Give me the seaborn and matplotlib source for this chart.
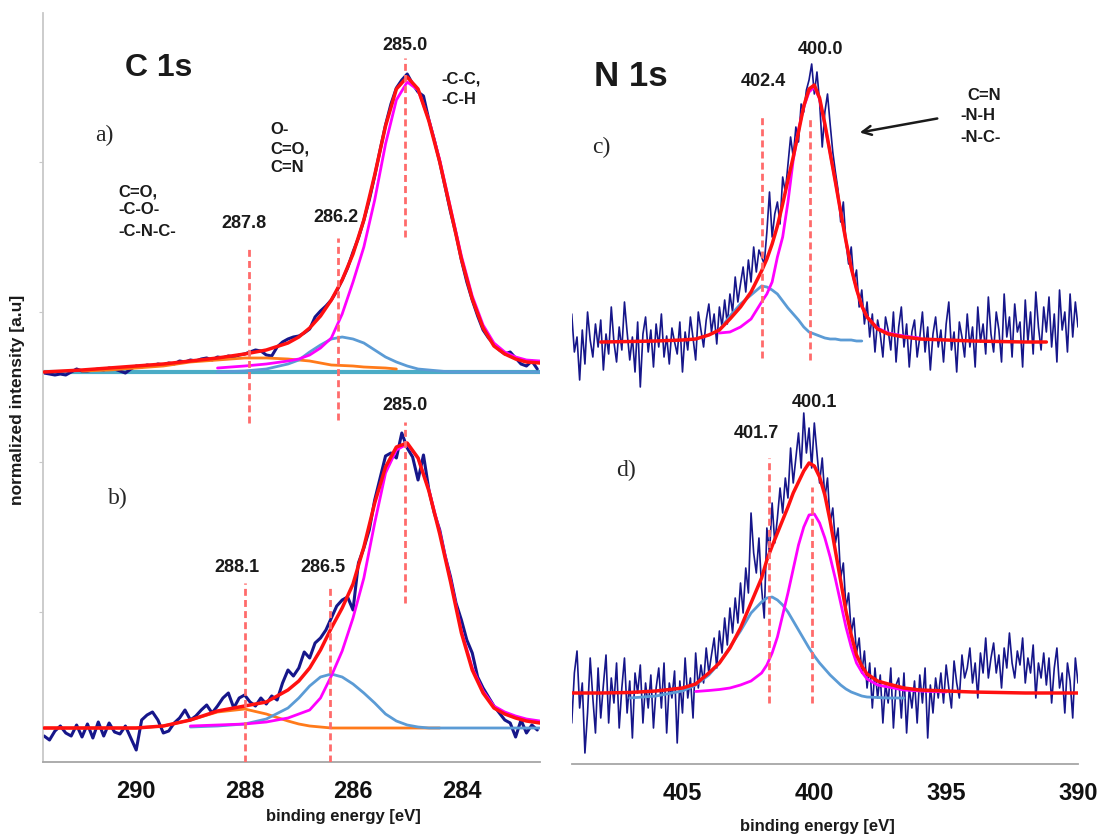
import numpy as np
import matplotlib
matplotlib.use("Agg")
import matplotlib.pyplot as plt
import seaborn as sns

sns.set_style("white")
plt.rcParams['font.family'] = ['Liberation Sans', 'DejaVu Sans']

# ---------------- C 1s (left panel) ----------------
nan = np.nan
c_fit_energy = [291.7, 291.0, 290.5, 290.0, 289.5, 289.0, 288.5, 288.0, 287.6, 287.2,
                287.0, 286.8, 286.6, 286.4, 286.2, 286.0, 285.8, 285.6, 285.4, 285.2,
                285.0, 284.8, 284.6, 284.4, 284.2, 284.0, 283.8, 283.6, 283.4, 283.2,
                283.0, 282.8, 282.55]

# sample a)
a_envelope = [0, 2, 4, 6, 8, 11, 14, 18, 22, 29, 35, 44, 56, 72, 92, 118, 152, 197, 246, 283,
              295, 283, 251, 210, 162, 113, 73, 44, 26, 18, 13, 10, 9]
a_cc = [nan, nan, nan, nan, nan, nan, 4, 6, 8, 11, 13, 17, 24, 34, 58, 90, 125, 172, 228, 272,
        290, 282, 252, 212, 164, 116, 76, 47, 29, 20, 15, 12, 11]
a_cn = [nan, nan, nan, nan, nan, nan, 0, 1, 3, 8, 12, 20, 27, 33, 35, 33, 29, 22, 15, 10,
        6, 3, 2, 1, 0, 0, 0, 0, 0, 0, 0, 0, 0]
a_co = [nan, 1, 2, 4, 6, 10, 12, 14, 14, 13, 12, 11, 9, 7, 6.5, 6, 5, 4.5, 4, 3,
        nan, nan, nan, nan, nan, nan, nan, nan, nan, nan, nan, nan, nan]
a_bg_energy = [291.7, 282.55]
a_bg = [0, 0]
a_data = [-1, -2, -3, -2, -3, 0, 3, 1, 1, 2, 3, 2, 4, 3, 1, -1, 3, 6, 5, 7,
          6, 8, 7, 9, 8, 11, 10, 12, 11, 13, 14, 12, 15, 14, 16, 15, 17, 18, 20, 22,
          21, 17, 16, 25, 30, 33, 35, 36, 39, 43, 55, 61, 66, 72, 81, 92, 104, 120, 134, 152,
          172, 196, 222, 247, 268, 284, 292, 298, 288, 280, 276, 252, 232, 210, 185, 160, 138, 112, 90, 72,
          56, 42, 34, 28, 22, 18, 20, 14, 8, 6, 11, 3]

# sample b)
b_envelope = [0, 0, 0, 0, 2, 8, 17, 22, 26, 38, 47, 60, 78, 100, 120, 144, 181, 225, 261, 281,
              285, 270, 237, 194, 146, 95, 58, 35, 20, 14, 10, 7, 5]
b_cc = [nan, nan, nan, nan, nan, 2, 3, 4, 6, 10, 14, 18, 30, 52, 77, 110, 150, 205, 255, 278,
        284, 270, 238, 196, 148, 97, 60, 37, 22, 16, 12, 9, 7]
b_cn = [nan, nan, nan, nan, nan, 1, 2, 4, 9, 20, 30, 42, 51, 54, 51, 44, 35, 25, 14, 7,
        3, 1, 0, 0, 0, 0, 0, 0, 0, 0, 0, 0, 0]
b_co = [0, 0, 0, 0, 2, 8, 16, 19, 14, 7, 4, 2, 1, 0, 0, 0, 0, 0, 0, 0,
        0, 0, 0, 0, nan, nan, nan, nan, nan, nan, nan, nan, nan]
b_data = [-8, -12, -3, 2, -5, -8, 3, -9, 4, -10, 6, -8, 5, -4, -6, 2, -10, -22, 8, 13,
          16, 8, -5, -3, 5, 10, 18, 8, 12, 18, 23, 15, 22, 30, 35, 20, 30, 33, 26, 22,
          30, 24, 32, 28, 45, 58, 52, 60, 76, 70, 85, 90, 98, 110, 122, 128, 131, 118, 165, 180,
          198, 228, 250, 272, 275, 270, 295, 280, 271, 248, 273, 238, 215, 198, 172, 151, 125, 108, 88, 75,
          51, 40, 31, 22, 15, 8, 5, -9, 8, -5, 3, -2]
c_data_start, c_data_step = 291.7, 0.1

a_peaks = [287.92, 286.28, 285.05]
a_peak_labels = ["287.8", "286.2", "285.0"]
b_peaks = [288.0, 286.43, 285.05]
b_peak_labels = ["288.1", "286.5", "285.0"]

# ---------------- N 1s (right panel) ----------------
n_fit_energy = [409.2, 408.1, 407.0, 406.0, 405.0, 404.5, 404.0, 403.6, 403.2, 402.8,
                402.4, 402.0, 401.8, 401.6, 401.4, 401.2, 401.0, 400.8, 400.6, 400.4,
                400.2, 400.0, 399.8, 399.6, 399.4, 399.2, 399.0, 398.8, 398.6, 398.4,
                398.2, 398.0, 397.6, 397.2, 396.6, 396.0, 395.0, 394.0, 393.0, 392.0,
                391.2, 390.0]

# sample c)
c_envelope = [nan, 0, 0.5, 1, 2, 3, 7, 12, 23, 35, 50, 71, 83, 98, 116, 138, 162, 185, 210, 236,
              253, 257, 244, 218, 189, 160, 130, 101, 74, 53, 36, 25, 13, 8, 5, 3, 2, 1, 0.5, 0,
              0, nan]
c_main = [nan, nan, nan, nan, nan, nan, nan, 9, 10, 15, 23, 40, 48, 60, 85, 105, 140, 182, 212, 235,
          250, 255, 243, 217, 189, 160, 130, 101, 74, 53, 36, 25, 14, 9, 6, 4, nan, nan, nan, nan,
          nan, nan]
c_high = [nan, nan, nan, nan, nan, nan, nan, 12, 26, 38, 47, 56, 55, 52, 48, 41, 34, 28, 22, 15,
          10, 8, 6, 4, 3, 3, 2, 2, 2, 1, 1, nan, nan, nan, nan, nan, nan, nan, nan, nan,
          nan, nan]
c_data = [28, -10, 5, -38, 12, -22, 30, 2, -15, 18,
          -5, 22, -28, 8, -12, 35, 0, -20, 15, -8,
          40, 10, -18, 5, -30, 20, -45, 8, 25, -10,
          12, -25, 18, -5, 28, -15, 6, -22, 14, 0,
          -12, 20, -30, 10, -8, 25, 4, -18, 30, 12,
          -5, 22, 38, 10, 28, -2, 35, 15, 42, 18,
          48, 30, 65, 40, 58, 75, 50, 82, 60, 95,
          70, 92, 85, 78, 110, 150, 105, 128, 140, 118,
          165, 150, 178, 205, 185, 215, 200, 238, 230, 252,
          262, 278, 248, 270, 240, 195, 230, 248, 218, 190,
          170, 152, 120, 140, 100, 78, 95, 60, 72, 35,
          52, 18, 40, 5, 28, -10, 22, 8, -15, 25,
          12, -8, 30, -20, 15, 35, -5, 18, -25, 10,
          22, -15, 5, 30, -10, 15, -28, 8, 25, -5,
          12, -20, 18, 40, -8, 10, -30, 20, 5, -15,
          28, -5, 15, -25, 35, 0, 18, -12, 45, 8,
          -10, 30, 12, -20, 48, 5, 25, -15, 38, 10,
          20, -25, 42, 0, 30, -12, 50, 15, -8, 35,
          10, 45, -5, 28, -20, 52, 12, 30, -10, 48,
          5, 40, 15]

# sample d)
d_envelope = [0, 0, 0.5, 2, 5, 9, 20, 30, 45, 65, 90, 115, 133, 147, 160, 173, 186, 200, 211, 222,
              230, 227, 216, 198, 172, 142, 112, 82, 58, 38, 27, 19, 12, 9, 5, 3, 2, 1, 0.5, 0,
              0, 0]
d_main = [nan, nan, nan, nan, nan, 1.5, 2.5, 3.5, 5, 8, 12, 20, 28, 40, 56, 78, 100, 124, 148, 166,
          178, 179, 170, 155, 136, 114, 90, 66, 46, 30, 21, 14, 8, 6, 3, 2, 1, nan, nan, nan,
          nan, nan]
d_high = [nan, nan, -5, -3, 2, 8, 18, 30, 46, 62, 80, 91, 95, 96, 93, 88, 81, 72, 63, 54,
          45, 37, 30, 24, 18, 13, 8, 4, 1, -1, -3, -4, -4.5, -5, -5, nan, nan, nan, nan, nan,
          nan, nan]
d_data = [-30, 20, 42, -15, 10, -60, -20, 35, -5, -40,
          25, -25, 8, 38, -30, 15, -10, 30, -35, 5,
          35, -20, 12, -45, 20, 0, 28, -30, 10, -15,
          18, -35, 5, 25, -15, 30, -40, 10, -5, 22,
          -50, 12, -20, 35, -5, 15, -25, 40, 5, 28,
          10, 45, 20, 38, 55, 25, 62, 40, 75, 48,
          85, 60, 95, 70, 110, 80, 125, 100, 180, 140,
          120, 155, 105, 75, 165, 140, 190, 150, 175, 205,
          180, 215, 195, 245, 210, 235, 260, 225, 280, 240,
          265, 225, 270, 240, 210, 235, 195, 215, 170, 185,
          150, 165, 115, 130, 85, 100, 60, 75, 40, 55,
          20, 42, 5, 30, -15, 25, -5, 18, -30, 10,
          -10, 25, -35, 8, 15, -25, 20, -40, 5, -15,
          12, -30, 18, -10, 25, -45, 8, -20, 15, -5,
          20, -10, 28, 5, -15, 32, 10, -5, 38, 15,
          25, 45, 10, 30, -5, 40, 20, 55, 15, 35,
          50, 20, 38, 5, 45, 25, 60, 30, 15, 42,
          28, 55, 10, 35, 20, 48, -5, 30, 15, 40,
          8, 35, -10, 25, 45, 5, 20, -20, 30, 12,
          -25, 35, 10]
n_data_start, n_data_step = 409.2, 0.1

c_peaks = [402.0, 400.15]
c_peak_labels = ["402.4", "400.0"]
d_peaks = [401.73, 400.08]
d_peak_labels = ["401.7", "400.1"]

# ---------------- styling ----------------
NAVY = "#16168a"
RED = "#ff1010"
MAGENTA = "#ff00ff"
BLUE = "#5b9bd5"
ORANGE = "#ff7a1a"
TEAL = "#4bacc6"
DASH = "#ff6b6b"

W, H = 1099, 835
fig = plt.figure(figsize=(W / 100, H / 100), dpi=100)
axL = fig.add_axes([43 / W, 1 - 762 / H, 497 / W, 749 / H])
axR = fig.add_axes([572 / W, 1 - 764 / H, 506 / W, 751 / H])


def curve(ax, x, y, off, color, lw, z):
    sns.lineplot(x=np.asarray(x, float), y=np.asarray(y, float) + off, ax=ax, color=color,
                 lw=lw, zorder=z, errorbar=None, sort=False)


def data_x(start, step, vals):
    return start - step * np.arange(len(vals))


# left panel
a_off, b_off = 390, 34
curve(axL, a_bg_energy, a_bg, a_off, TEAL, 3, 1)
curve(axL, data_x(c_data_start, c_data_step, a_data), a_data, a_off, NAVY, 2.2, 2)
curve(axL, data_x(c_data_start, c_data_step, b_data), b_data, b_off, NAVY, 2.2, 2)
for off, cc, cn, co, env in [(a_off, a_cc, a_cn, a_co, a_envelope), (b_off, b_cc, b_cn, b_co, b_envelope)]:
    curve(axL, c_fit_energy, co, off, ORANGE, 2, 3)
    curve(axL, c_fit_energy, cn, off, BLUE, 2, 3)
    curve(axL, c_fit_energy, cc, off, MAGENTA, 2, 4)
    curve(axL, c_fit_energy, env, off, RED, 2.5, 5)

# right panel
c_off, d_off = 422, 71
curve(axR, data_x(n_data_start, n_data_step, c_data), c_data, c_off, NAVY, 1.2, 2)
curve(axR, data_x(n_data_start, n_data_step, d_data), d_data, d_off, NAVY, 1.2, 2)
for off, hi, mn, env in [(c_off, c_high, c_main, c_envelope), (d_off, d_high, d_main, d_envelope)]:
    curve(axR, n_fit_energy, hi, off, BLUE, 2, 3)
    curve(axR, n_fit_energy, mn, off, MAGENTA, 2, 4)
    curve(axR, n_fit_energy, env, off, RED, 2.5, 5)

# dashed peak markers (vertical extents are layout)
dash_style = dict(colors=DASH, linestyles=(0, (2.5, 1.5)), lw=2, zorder=6)
for x, (y0, y1) in zip(a_peaks, [(339, 514), (342, 524), (525, 704)]):
    axL.vlines(x, y0, y1, **dash_style)
for x, (y0, y1) in zip(b_peaks, [(0, 179), (0, 175), (159, 340)]):
    axL.vlines(x, y0, y1, **dash_style)
for x, (y0, y1) in zip(c_peaks, [(406, 648), (404, 647)]):
    axR.vlines(x, y0, y1, **dash_style)
for x, (y0, y1) in zip(d_peaks, [(61, 306), (61, 277)]):
    axR.vlines(x, y0, y1, **dash_style)

# axes
axL.set_xlim(291.72, 282.55)
axL.set_ylim(0, 749)
axR.set_xlim(409.19, 390.0)
axR.set_ylim(0, 751)
for ax in (axL, axR):
    ax.set_xlabel("")
    ax.set_ylabel("")
    ax.spines["top"].set_visible(False)
    ax.spines["right"].set_visible(False)
    ax.spines["bottom"].set_color("#a6a6a6")
    ax.spines["bottom"].set_linewidth(1.3)
    ax.tick_params(axis="x", direction="out", length=5, width=1.2, color="#a6a6a6", pad=8)
axL.set_xticks([290, 288, 286, 284])
axL.set_xticklabels(["290", "288", "286", "284"], fontweight="bold", fontsize=17, color="#111111")
axR.set_xticks([405, 400, 395, 390])
axR.set_xticklabels(["405", "400", "395", "390"], fontweight="bold", fontsize=17, color="#111111")
axL.spines["left"].set_color("#c8c8c8")
axL.spines["left"].set_linewidth(1.3)
axL.set_yticks([150, 300, 450, 600])
axL.set_yticklabels([])
axL.tick_params(axis="y", direction="out", length=3, color="#c8c8c8", left=True)
axR.spines["left"].set_visible(False)
axR.set_yticks([])


def ptxt(x, y, s, **kw):
    fig.text(x / W, 1 - y / H, s, **kw)


bold = dict(fontweight="bold", color="#1a1a1a")
ptxt(18, 400, "normalized intensity [a.u]", rotation=90, ha="center", va="center", fontsize=12.5, **bold)
ptxt(343, 817, "binding energy [eV]", ha="center", va="center", fontsize=12, **bold)
ptxt(817, 827, "binding energy [eV]", ha="center", va="center", fontsize=12, **bold)

ptxt(159, 68, "C 1s", ha="center", va="center", fontsize=23, **bold)
ptxt(631, 77, "N 1s", ha="center", va="center", fontsize=25, **bold)

serif = dict(family=["Liberation Serif", "DejaVu Serif"], fontsize=17, ha="center", va="center")
ptxt(104, 135, "a)", **serif)
ptxt(118, 498, "b)", **serif)
ptxt(601, 147, "c)", **serif)
ptxt(626, 470, "d)", **serif)

for s, (x, y) in zip(a_peak_labels, [(244, 223), (336, 218), (405, 45)]):
    ptxt(x, y, s, ha="center", va="center", fontsize=13, **bold)
for s, (x, y) in zip(b_peak_labels, [(237, 567), (323, 567), (405, 406)]):
    ptxt(x, y, s, ha="center", va="center", fontsize=13, **bold)
for s, (x, y) in zip(c_peak_labels, [(763, 81), (820, 50)]):
    ptxt(x, y, s, ha="center", va="center", fontsize=13, **bold)
for s, (x, y) in zip(d_peak_labels, [(756, 433), (814, 402)]):
    ptxt(x, y, s, ha="center", va="center", fontsize=13, **bold)

grp = dict(ha="left", va="center", fontsize=12, **bold)
for s, (x, y) in [("C=O,", (118, 192)), ("-C-O-", (118, 209)), ("-C-N-C-", (118, 231)),
                  ("O-", (270, 130)), ("C=O,", (270, 149)), ("C=N", (270, 167)),
                  ("-C-C,", (441, 79)), ("-C-H", (441, 100)),
                  ("C=N", (967, 95)), ("-N-H", (960, 115)), ("-N-C-", (960, 137))]:
    ptxt(x, y, s, **grp)

fig.add_artist(matplotlib.patches.FancyArrowPatch(
    (940 / W, 1 - 118 / H), (857 / W, 1 - 133 / H), transform=fig.transFigure,
    arrowstyle="->", mutation_scale=16, lw=1.8, color="#1a1a1a"))

fig.savefig("out.png", dpi=100)
